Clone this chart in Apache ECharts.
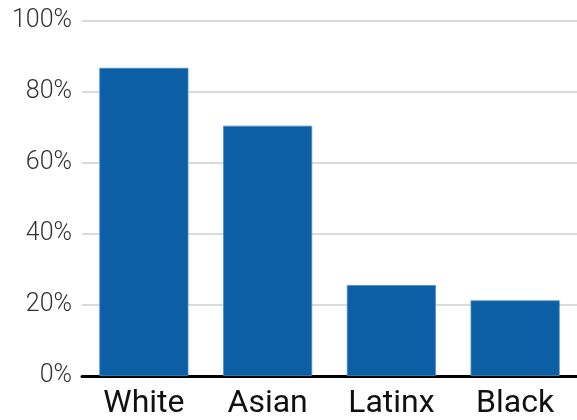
<!DOCTYPE html>
<html><head><meta charset="utf-8">
<script src="https://cdn.jsdelivr.net/npm/echarts@6/dist/echarts.min.js"></script>
<style>html,body{margin:0;padding:0;background:#fff}#c{width:577px;height:420px}</style>
</head><body><div id="c"></div>
<script>
const categories = ["White", "Asian", "Latinx", "Black"];
const values = [86.8, 70.5, 25.6, 21.3];
const yTicks = [0, 20, 40, 60, 80, 100];

const chart = echarts.init(document.getElementById('c'), null, {renderer: 'canvas'});
chart.setOption({
  animation: false,
  grid: {left: 82, top: 21, width: 500, height: 360, containLabel: false},
  xAxis: {
    type: 'category', data: categories,
    axisLine: {show: true, lineStyle: {color: '#000', width: 3}},
    axisTick: {show: false},
    axisLabel: {color: '#111', fontFamily: 'Roboto', fontSize: 32, margin: 12}
  },
  yAxis: {
    type: 'value', min: yTicks[0], max: yTicks[yTicks.length - 1], interval: 20,
    axisLine: {show: false}, axisTick: {show: false},
    splitLine: {lineStyle: {color: '#cfcfcf', width: 1.5}},
    axisLabel: {color: '#333', fontFamily: 'Roboto', fontWeight: 300, fontSize: 25, margin: 10,
      formatter: v => v + '%'}
  },
  series: [{
    type: 'bar', data: values, barWidth: '72%',
    itemStyle: {color: '#0c5ea5', borderColor: '#4d8fcc', borderWidth: 0.8}
  }]
});
</script></body></html>
